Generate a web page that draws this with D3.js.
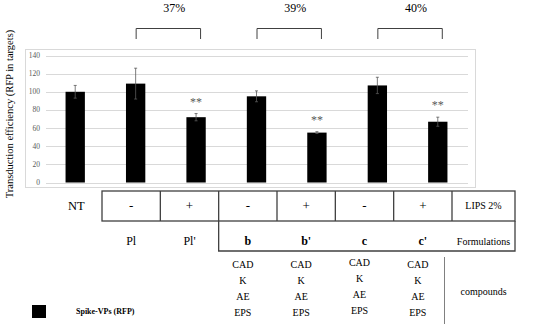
<!DOCTYPE html>
<html>
<head>
<meta charset="utf-8">
<script src="https://cdn.jsdelivr.net/npm/d3@7"></script>
<style>
  body { margin: 0; background: #fff; }
  svg text { font-family: 'Liberation Serif', 'Times New Roman', serif; }
</style>
</head>
<body>
<div id="chart"></div>
<script>
// data
const categories = ['NT', 'Pl', "Pl'", 'b', "b'", 'c', "c'"];
const values = [100, 109, 72, 95, 55, 107, 67];
const errors = [7, 17, 4, 6, 1, 9, 5];
const stars = ['', '', '**', '', '**', '', '**'];
const brackets = [
  { from: 'Pl', to: "Pl'", label: '37%' },
  { from: 'b', to: "b'", label: '39%' },
  { from: 'c', to: "c'", label: '40%' },
];
const lipsRow = ['-', '+', '-', '+', '-', '+'];
const formulationRow = ['Pl', "Pl'", 'b', "b'", 'c', "c'"];
const compounds = ['CAD', 'K', 'AE', 'EPS'];
const compoundCols = ['b', "b'", 'c', "c'"];
const yTicks = [0, 20, 40, 60, 80, 100, 120, 140];

// dimensions
const width = 550;
const height = 331;
const serif = "'Liberation Serif', 'Times New Roman', serif";

const svg = d3.select('#chart')
  .append('svg')
  .attr('width', width)
  .attr('height', height)
  .attr('font-family', serif);

// plot frame
svg.append('rect')
  .attr('x', 25.5).attr('y', 49.5)
  .attr('width', 450).attr('height', 138)
  .attr('fill', 'none')
  .attr('stroke', '#d9d9d9');

const x = d3.scaleBand()
  .domain(categories)
  .range([45, 468])
  .paddingInner(0.68)
  .paddingOuter(0.34);

const y = d3.scaleLinear()
  .domain([0, 140])
  .range([182.5, 55.5]);

// gridlines + tick labels
const grid = svg.append('g');
grid.selectAll('line')
  .data(yTicks)
  .enter().append('line')
  .attr('x1', 46).attr('x2', 468)
  .attr('y1', d => Math.round(y(d)) + 0.5)
  .attr('y2', d => Math.round(y(d)) + 0.5)
  .attr('stroke', '#d9d9d9');

grid.selectAll('text')
  .data(yTicks)
  .enter().append('text')
  .attr('x', 40)
  .attr('y', d => y(d) + 2.5)
  .attr('text-anchor', 'end')
  .attr('font-size', 7.5)
  .attr('fill', '#595959')
  .text(d => d);

// y title
svg.append('text')
  .attr('transform', 'translate(13, 114) rotate(-90)')
  .attr('text-anchor', 'middle')
  .attr('font-size', 10.5)
  .attr('fill', '#000')
  .text('Transduction efficiency (RFP in targets)');

// bars
svg.append('g').selectAll('rect')
  .data(categories)
  .enter().append('rect')
  .attr('x', d => x(d))
  .attr('width', x.bandwidth())
  .attr('y', (d, i) => y(values[i]))
  .attr('height', (d, i) => y(0) - y(values[i]))
  .attr('fill', '#000');

// error bars
const eb = svg.append('g')
  .attr('stroke', '#595959')
  .attr('stroke-width', 0.8);
categories.forEach((c, i) => {
  const cx = x(c) + x.bandwidth() / 2;
  const top = y(values[i] + errors[i]);
  const bot = y(values[i] - errors[i]);
  eb.append('line').attr('x1', cx).attr('x2', cx).attr('y1', top).attr('y2', bot);
  eb.append('line').attr('x1', cx - 1.5).attr('x2', cx + 1.5).attr('y1', top).attr('y2', top);
  eb.append('line').attr('x1', cx - 1.5).attr('x2', cx + 1.5).attr('y1', bot).attr('y2', bot);
});

// significance stars
svg.append('g').selectAll('text')
  .data(categories)
  .enter().append('text')
  .attr('x', d => x(d) + x.bandwidth() / 2)
  .attr('y', (d, i) => y(values[i] + errors[i]) - 8)
  .attr('text-anchor', 'middle')
  .attr('font-size', 12)
  .attr('fill', '#595959')
  .text((d, i) => stars[i]);

// brackets
const br = svg.append('g');
brackets.forEach(b => {
  const x1 = x(b.from) + x.bandwidth() / 2 + 0.5;
  const x2 = x(b.to) + x.bandwidth() / 2 + 4.5;
  br.append('path')
    .attr('d', `M${x1},39V28.5H${x2}V39`)
    .attr('fill', 'none')
    .attr('stroke', '#404040')
    .attr('stroke-width', 1);
  br.append('text')
    .attr('x', (x1 + x2) / 2 + 6)
    .attr('y', 12)
    .attr('text-anchor', 'middle')
    .attr('font-size', 12)
    .attr('fill', '#000')
    .text(b.label);
});

// table
const col = d3.scaleBand()
  .domain(formulationRow)
  .range([102, 452]);
const labelX = (452 + 515) / 2;
const tbl = svg.append('g')
  .attr('stroke', '#404040')
  .attr('stroke-width', 1.3)
  .attr('fill', 'none');

tbl.append('rect')
  .attr('x', 102).attr('y', 191)
  .attr('width', 413).attr('height', 30);
formulationRow.slice(1).forEach(d => {
  tbl.append('line').attr('x1', col(d)).attr('x2', col(d)).attr('y1', 191).attr('y2', 221);
});
tbl.append('line').attr('x1', 452).attr('x2', 452).attr('y1', 191).attr('y2', 221);
tbl.append('path')
  .attr('d', `M${col('b')},221V251H515V221`);

const row1 = svg.append('g').attr('text-anchor', 'middle').attr('fill', '#000');
row1.append('text')
  .attr('x', x('NT') + x.bandwidth() / 2 + 1)
  .attr('y', 210)
  .attr('font-size', 12.5)
  .text('NT');
row1.selectAll('.lips')
  .data(lipsRow)
  .enter().append('text')
  .attr('class', 'lips')
  .attr('x', (d, i) => col(formulationRow[i]) + col.bandwidth() / 2)
  .attr('y', 210)
  .attr('font-size', 13)
  .text(d => d);
row1.append('text')
  .attr('x', labelX).attr('y', 209)
  .attr('font-size', 10)
  .text('LIPS 2%');

const row2 = svg.append('g').attr('text-anchor', 'middle').attr('fill', '#000');
row2.selectAll('.form')
  .data(formulationRow)
  .enter().append('text')
  .attr('class', 'form')
  .attr('x', d => col(d) + col.bandwidth() / 2)
  .attr('y', 245)
  .attr('font-size', 12)
  .attr('font-weight', (d, i) => i >= 2 ? 'bold' : 'normal')
  .text(d => d);
row2.append('text')
  .attr('x', labelX).attr('y', 245)
  .attr('font-size', 10)
  .text('Formulations');

// compounds
const row3 = svg.append('g').attr('text-anchor', 'middle').attr('fill', '#000');
compoundCols.forEach((c, j) => {
  compounds.forEach((t, k) => {
    row3.append('text')
      .attr('x', col(c) + col.bandwidth() / 2 - 5)
      .attr('y', 268 + k * 16 - (j === 2 ? 2 : 0))
      .attr('font-size', 10)
      .text(t);
  });
});
svg.append('line')
  .attr('x1', 444.5).attr('x2', 444.5)
  .attr('y1', 257).attr('y2', 324)
  .attr('stroke', '#808080')
  .attr('stroke-width', 1);
row3.append('text')
  .attr('x', labelX).attr('y', 295)
  .attr('font-size', 10)
  .text('compounds');

// legend
svg.append('rect')
  .attr('x', 32).attr('y', 305)
  .attr('width', 14).attr('height', 13)
  .attr('fill', '#000');
svg.append('text')
  .attr('x', 76).attr('y', 314)
  .attr('font-size', 8)
  .attr('font-weight', 'bold')
  .attr('fill', '#000')
  .text('Spike-VPs (RFP)');
</script>
</body>
</html>
